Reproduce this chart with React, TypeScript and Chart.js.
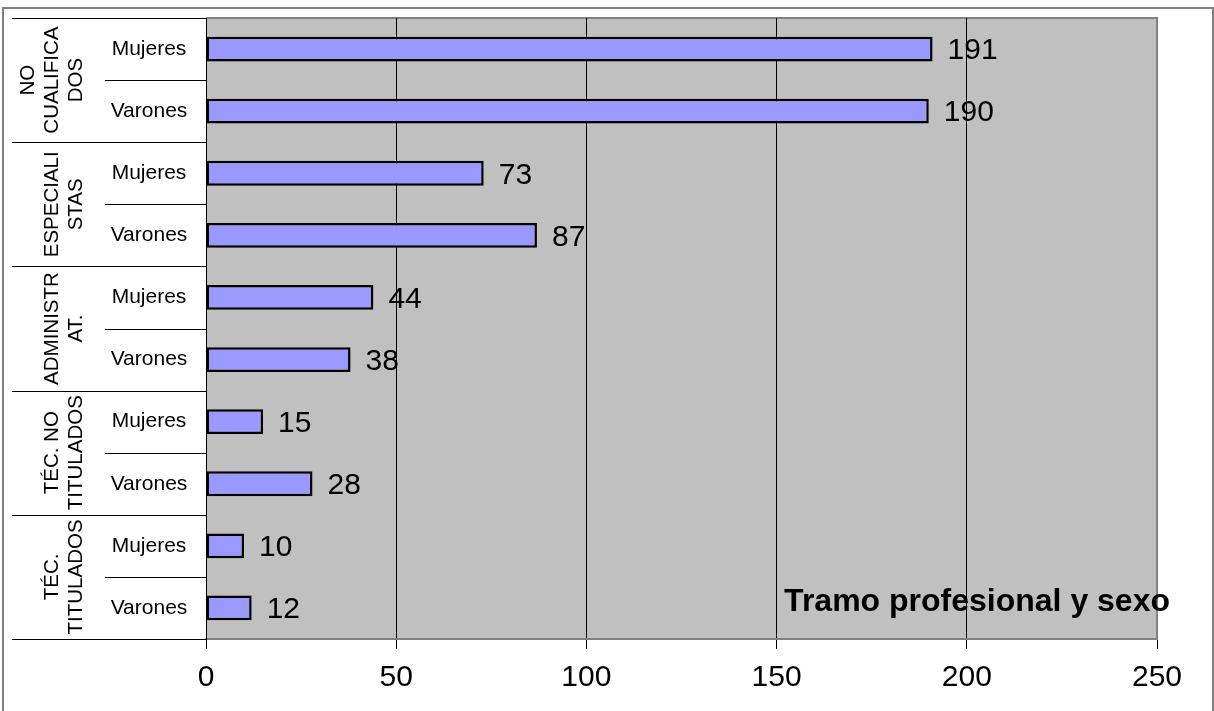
import React, { useEffect, useRef } from "react";
import { Chart, registerables } from "chart.js";

Chart.register(...registerables);

const groups: string[][] = [
  ["NO", "CUALIFICA", "DOS"],
  ["ESPECIALI", "STAS"],
  ["ADMINISTR", "AT."],
  ["TÉC. NO", "TITULADOS"],
  ["TÉC.", "TITULADOS"],
];
const categories = [
  "Mujeres", "Varones",
  "Mujeres", "Varones",
  "Mujeres", "Varones",
  "Mujeres", "Varones",
  "Mujeres", "Varones",
];
const values = [191, 190, 73, 87, 44, 38, 15, 28, 10, 12];
const xTicks = [0, 50, 100, 150, 200, 250];
const title = "Tramo profesional y sexo";

const FONT = "'Liberation Sans', Arial, sans-serif";

const decorPlugin = {
  id: "decor",
  beforeDraw(chart: any) {
    const { ctx, chartArea: a } = chart;
    ctx.save();
    ctx.fillStyle = "#ffffff";
    ctx.fillRect(0, 0, chart.width, chart.height);
    // outer frame
    ctx.strokeStyle = "#808080";
    ctx.lineWidth = 2;
    ctx.strokeRect(3, 8, 1210, 720);
    // plot background
    ctx.fillStyle = "#C0C0C0";
    ctx.fillRect(a.left, a.top, a.right - a.left, a.bottom - a.top);
    ctx.strokeStyle = "#808080";
    ctx.lineWidth = 2;
    ctx.beginPath();
    ctx.moveTo(a.left, a.top);
    ctx.lineTo(a.right, a.top);
    ctx.lineTo(a.right, a.bottom);
    ctx.lineTo(a.left, a.bottom);
    ctx.stroke();
    ctx.restore();
  },
  afterDraw(chart: any) {
    const { ctx, chartArea: a } = chart;
    const y = chart.scales.y;
    const x = chart.scales.x;
    ctx.save();
    // left axis line extended
    ctx.strokeStyle = "#000";
    ctx.lineWidth = 1;
    ctx.beginPath();
    ctx.moveTo(a.left + 0.5, a.top);
    ctx.lineTo(a.left + 0.5, a.bottom + 10);
    ctx.stroke();

    const n = categories.length;
    const boundary = (i: number) => {
      if (i <= 0) return a.top;
      if (i >= n) return a.bottom;
      return (y.getPixelForValue(i - 1) + y.getPixelForValue(i)) / 2;
    };
    // separators
    ctx.strokeStyle = "#000";
    ctx.lineWidth = 1;
    for (let i = 0; i <= n; i++) {
      const yy = Math.round(boundary(i)) + 0.5;
      const xStart = i % 2 === 0 ? 12 : 105;
      ctx.beginPath();
      ctx.moveTo(xStart, yy);
      ctx.lineTo(a.left, yy);
      ctx.stroke();
    }
    // inner labels
    ctx.fillStyle = "#000";
    ctx.font = `21px ${FONT}`;
    ctx.textAlign = "center";
    ctx.textBaseline = "middle";
    categories.forEach((c, i) => {
      ctx.fillText(c, 149, y.getPixelForValue(i));
    });
    // group labels rotated
    groups.forEach((lines, g) => {
      const cy = (boundary(g * 2) + boundary(g * 2 + 2)) / 2;
      const lastX = 76;
      ctx.save();
      ctx.translate(0, cy);
      ctx.rotate(-Math.PI / 2);
      ctx.textAlign = "center";
      ctx.textBaseline = "middle";
      ctx.font = `20.5px ${FONT}`;
      lines.forEach((ln, k) => {
        const xx = lastX - (lines.length - 1 - k) * 24;
        ctx.fillText(ln, 0, xx);
      });
      ctx.restore();
    });
    // value labels
    ctx.font = `30px ${FONT}`;
    ctx.textAlign = "left";
    ctx.textBaseline = "middle";
    values.forEach((v, i) => {
      ctx.fillText(String(v), x.getPixelForValue(v) + 15, y.getPixelForValue(i) + 2);
    });
    // title
    ctx.font = `bold 32px ${FONT}`;
    ctx.textAlign = "right";
    ctx.textBaseline = "alphabetic";
    ctx.fillText(title, a.right + 13, a.bottom - 28);
    ctx.restore();
  },
};

export default function App() {
  const ref = useRef<HTMLCanvasElement | null>(null);
  useEffect(() => {
    document.body.style.margin = "0";
    const chart = new Chart(ref.current as HTMLCanvasElement, {
      type: "bar",
      data: {
        labels: categories,
        datasets: [
          {
            data: values,
            backgroundColor: "#9999FF",
            borderColor: "#000000",
            borderWidth: 2.5,
            borderSkipped: false,
            barPercentage: 0.4,
            categoryPercentage: 1,
          },
        ],
      },
      options: {
        indexAxis: "y",
        animation: false,
        responsive: false,
        maintainAspectRatio: false,
        layout: { padding: { left: 0, top: 18, right: 57, bottom: 0 } },
        plugins: { legend: { display: false }, tooltip: { enabled: false } },
        scales: {
          x: {
            min: 0,
            max: 250,
            afterBuildTicks: (s: any) => {
              s.ticks = xTicks.map((v) => ({ value: v }));
            },
            afterFit: (s: any) => {
              s.height = 72;
            },
            ticks: {
              color: "#000",
              font: { family: FONT, size: 30 },
              padding: 11,
              maxRotation: 0,
            },
            grid: {
              color: (ctx: any) => (ctx.tick && ctx.tick.value === 250 ? "#808080" : "#000"),
              lineWidth: 1,
              drawTicks: true,
              tickLength: 10,
              tickColor: "#000",
            },
            border: { display: true, color: "#808080", width: 2 },
          },
          y: {
            afterFit: (s: any) => {
              s.width = 206;
            },
            ticks: { display: false },
            grid: { display: false, drawTicks: false },
            border: { display: true, color: "#000", width: 1 },
          },
        },
      },
      plugins: [decorPlugin],
    } as any);
    return () => chart.destroy();
  }, []);
  return (
    <div style={{ width: 1214, height: 711 }}>
      <canvas ref={ref} width={1214} height={711} style={{ display: "block" }} />
    </div>
  );
}
